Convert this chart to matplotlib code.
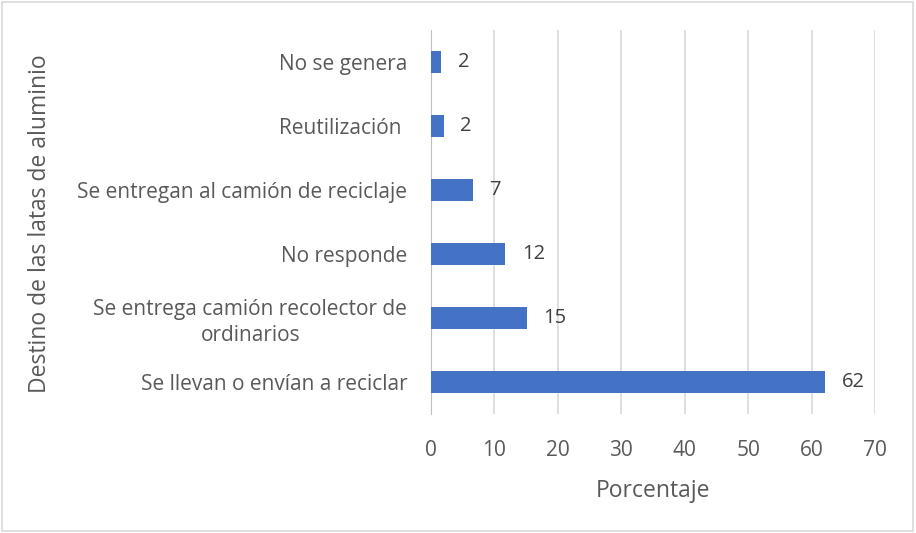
import matplotlib.pyplot as plt
from matplotlib.patches import Rectangle

categorias = ["Se llevan o envían a reciclar",
              "Se entrega camión recolector de\nordinarios",
              "No responde",
              "Se entregan al camión de reciclaje",
              "Reutilización ",
              "No se genera"]
porcentajes = [62.2, 15.1, 11.7, 6.6, 2.0, 1.6]
xticks = [0, 10, 20, 30, 40, 50, 60, 70]

gris = "#595959"
plt.rcParams['font.family'] = ['Open Sans', 'DejaVu Sans']

fig = plt.figure(figsize=(9.16, 5.33), dpi=100)
ax = fig.add_axes([0.4705, 0.2233, 0.4847, 0.7204])

pos = range(len(categorias))
ax.barh(pos, porcentajes, height=0.35, color="#4472C4", zorder=3)
for p, v in zip(pos, porcentajes):
    ax.annotate("%.0f" % v, (v, p), xytext=(12, 0), textcoords="offset points",
                va="center", ha="left", fontsize=14.5, color="#404040")

ax.set_xlim(0, 70)
ax.set_ylim(-0.5, len(categorias) - 0.5)
ax.set_xticks(xticks)
ax.set_yticks(list(pos))
ax.set_yticklabels(categorias, multialignment="center", linespacing=1.3)
ax.grid(axis="x", color="#D9D9D9", linewidth=1.2, zorder=0)
ax.tick_params(axis="both", length=0, labelsize=15, colors=gris)
ax.tick_params(axis="y", pad=17)
ax.tick_params(axis="x", pad=19)
for s in ["top", "right", "bottom"]:
    ax.spines[s].set_visible(False)
ax.spines["left"].set_color("#BFBFBF")

ax.set_xlabel("Porcentaje", fontsize=16.5, color=gris, labelpad=13)
fig.text(0.044, 0.58, "Destino de las latas de aluminio", rotation=90,
         ha="center", va="center", fontsize=16.5, color=gris)

fig.patches.append(Rectangle((0.002, 0.003), 0.995, 0.994, transform=fig.transFigure,
                             fill=False, edgecolor="#D9D9D9", linewidth=1.2))

fig.savefig("out.png", dpi=100)
